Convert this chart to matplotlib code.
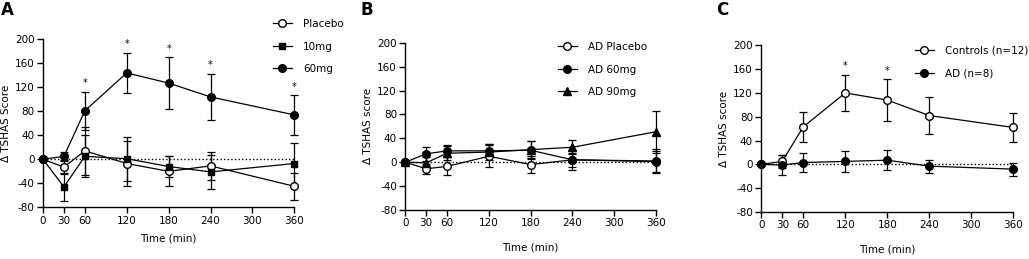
#!/usr/bin/env python3
"""
Change in TSHAS score over time, three panels (A, B, C).
"""

import matplotlib
matplotlib.use("Agg")
import matplotlib.pyplot as plt

# ---- data ----------------------------------------------------------------
times = [0, 30, 60, 120, 180, 240, 360]
x_ticks = [0, 30, 60, 120, 180, 240, 300, 360]
y_ticks = [-80, -40, 0, 40, 80, 120, 160, 200]

# Panel A
a_placebo = [0, -13, 14, -7, -20, -11, -45]
a_placebo_err = [0, 12, 40, 38, 25, 24, 23]
a_10mg = [0, -46, 5, 1, -12, -21, -7]
a_10mg_err = [0, 24, 35, 37, 17, 28, 35]
a_60mg = [0, 5, 81, 144, 127, 104, 74]
a_60mg_err = [0, 7, 32, 34, 43, 39, 33]
a_star_times = [60, 120, 180, 240, 360]

# Panel B
b_placebo = [0, -11, -7, 10, -4, 4, 1]
b_placebo_err = [0, 8, 15, 18, 14, 17, 17]
b_60mg = [0, 14, 19, 19, 20, 4, 2]
b_60mg_err = [0, 12, 10, 11, 15, 12, 20]
b_90mg = [0, -1, 15, 17, 21, 25, 51]
b_90mg_err = [0, 10, 12, 13, 14, 12, 35]

# Panel C
c_controls = [0, 5, 63, 120, 108, 82, 62]
c_controls_err = [0, 11, 25, 30, 35, 31, 25]
c_ad = [0, -1, 3, 5, 7, -3, -8]
c_ad_err = [0, 17, 16, 17, 17, 11, 11]
c_star_times = [120, 180]

plt.rcParams["font.family"] = "DejaVu Sans"
plt.rcParams["axes.unicode_minus"] = False


def draw_series(ax, y, err, marker, filled, label):
    cont = ax.errorbar(times, y, yerr=err, fmt="-" + marker, color="black",
                       mfc="black" if filled else "white", mec="black",
                       markersize=5.5 if marker != "s" else 5, lw=0.9,
                       elinewidth=0.9, capsize=3, capthick=0.9,
                       clip_on=False, zorder=3)
    # legend shows only line + marker, no error bar
    cont[0].set_label(label)
    return cont[0]


def style_axes(ax, ylabel, xpad):
    ax.set_xlim(0, 360)
    ax.set_ylim(-80, 200)
    ax.set_xticks(x_ticks)
    ax.set_yticks(y_ticks)
    ax.spines["top"].set_visible(False)
    ax.spines["right"].set_visible(False)
    for s in ("left", "bottom"):
        ax.spines[s].set_linewidth(1.0)
    ax.tick_params(direction="out", length=4, width=1.0, labelsize=7.5, pad=2)
    ax.plot([0, 360], [0, 0], color="black", ls=(0, (1, 1.6)), lw=1.0, zorder=1)
    ax.set_xlabel("Time (min)", fontsize=7.5, labelpad=xpad)
    ax.set_ylabel(ylabel, fontsize=7.5, labelpad=3)


def add_stars(ax, star_times, y, err):
    for t in star_times:
        i = times.index(t)
        ax.text(t, y[i] + err[i] + 6, "*", ha="center", va="bottom",
                fontsize=7)


def add_legend(ax, fig, handles, x, y):
    ax.legend(handles=handles, loc="upper left", bbox_to_anchor=(x, y),
              bbox_transform=fig.transFigure, frameon=False,
              borderpad=0, borderaxespad=0, handlelength=1.8,
              handletextpad=1.1, labelspacing=1.2, fontsize=7.5)


fig = plt.figure(figsize=(10.29, 2.59), dpi=100)
ax_a = fig.add_axes([0.0418, 0.1996, 0.2442, 0.6486])
ax_b = fig.add_axes([0.3939, 0.1892, 0.2436, 0.6459])
ax_c = fig.add_axes([0.7398, 0.1815, 0.2449, 0.6436])

# A
h = [draw_series(ax_a, a_placebo, a_placebo_err, "o", False, "Placebo"),
     draw_series(ax_a, a_10mg, a_10mg_err, "s", True, "10mg"),
     draw_series(ax_a, a_60mg, a_60mg_err, "o", True, "60mg")]
style_axes(ax_a, "\u0394 TSHAS Score", 6)
add_stars(ax_a, a_star_times, a_60mg, a_60mg_err)
add_legend(ax_a, fig, h, 0.2653, 0.9266)

# B
h = [draw_series(ax_b, b_placebo, b_placebo_err, "o", False, "AD Placebo"),
     draw_series(ax_b, b_60mg, b_60mg_err, "o", True, "AD 60mg"),
     draw_series(ax_b, b_90mg, b_90mg_err, "^", True, "AD 90mg")]
style_axes(ax_b, "\u0394 TSHAS score", 10)
add_legend(ax_b, fig, h, 0.5423, 0.8378)

# C
h = [draw_series(ax_c, c_controls, c_controls_err, "o", False, "Controls (n=12)"),
     draw_series(ax_c, c_ad, c_ad_err, "o", True, "AD (n=8)")]
style_axes(ax_c, "\u0394 TSHAS score", 10)
add_stars(ax_c, c_star_times, c_controls, c_controls_err)
add_legend(ax_c, fig, h, 0.8892, 0.8224)

# panel letters
for letter, xpos in (("A", 0.001), ("B", 0.3505), ("C", 0.6955)):
    fig.text(xpos, 0.995, letter, fontsize=12, fontweight="bold",
             ha="left", va="top")

fig.savefig("out.png", dpi=100)
